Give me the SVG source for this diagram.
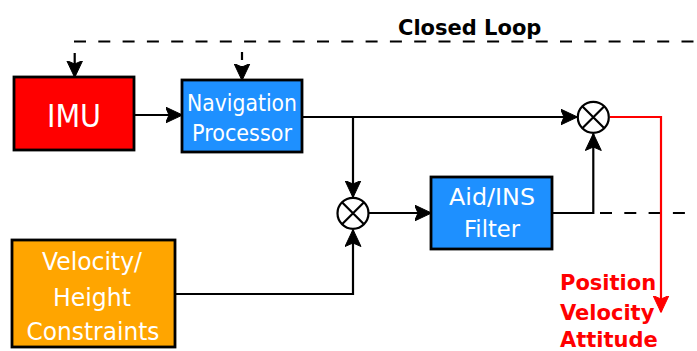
<svg xmlns="http://www.w3.org/2000/svg" width="697" height="351" viewBox="0 0 697 351">
  <style>
    .box { stroke: #000; stroke-width: 2.8; }
    .lbl { font-family: "DejaVu Sans", Verdana, sans-serif; fill: #fff; text-anchor: middle; }
    .wire { fill: none; stroke: #000; stroke-width: 2.2; }
    .dash { fill: none; stroke: #000; stroke-width: 2.2; stroke-dasharray: 12 12.3; }
    .out { fill: none; stroke: #f00; stroke-width: 2.2; }
    .sum { fill: #fff; stroke: #000; stroke-width: 2.2; }
    .bold { font-family: "DejaVu Sans", Verdana, sans-serif; font-weight: bold; font-size: 21px; }
  </style>
  <defs>
    <marker id="arrow" viewBox="0 0 17 17" refX="16.5" refY="8.5" markerWidth="17" markerHeight="17" markerUnits="userSpaceOnUse" orient="auto">
      <path d="M0,0.5 L17,8.5 L0,16.5 L3.5,8.5 Z" fill="#000" stroke="#000" stroke-width="1" stroke-linejoin="miter"/>
    </marker>
    <marker id="arrow-red" viewBox="0 0 17 17" refX="16.5" refY="8.5" markerWidth="17" markerHeight="17" markerUnits="userSpaceOnUse" orient="auto">
      <path d="M0,0.5 L17,8.5 L0,16.5 L3.5,8.5 Z" fill="#f00" stroke="#f00" stroke-width="1" stroke-linejoin="miter"/>
    </marker>
  </defs>

  <rect width="697" height="351" fill="#fff"/>

  <text class="bold" x="398" y="35" fill="#000">Closed Loop</text>

  <g id="connectors">
    <!-- closed-loop feedback -->
    <path class="dash" d="M74,41.5 H697"/>
    <path class="wire" d="M74.7,53 V77" marker-end="url(#arrow)"/>
    <path class="wire" d="M242,52 V80" stroke-dasharray="8 6" marker-end="url(#arrow)"/>
    <!-- forward path -->
    <path class="wire" d="M134,115 H182" marker-end="url(#arrow)"/>
    <path class="wire" d="M302,117 H577" marker-end="url(#arrow)"/>
    <path class="wire" d="M353,117 V197" marker-end="url(#arrow)"/>
    <path class="wire" d="M175,294 H353 V230" marker-end="url(#arrow)"/>
    <path class="wire" d="M369,213 H431" marker-end="url(#arrow)"/>
    <path class="wire" d="M552,213 H593.3 V134" marker-end="url(#arrow)"/>
    <path class="dash" d="M600,213 H697" stroke-dasharray="12 11.5"/>
    <!-- corrected output -->
    <path class="out" d="M610,117 H661 V312" marker-end="url(#arrow-red)"/>
  </g>

  <g id="imu">
    <rect class="box" x="14" y="77" width="120" height="73" fill="#f00"/>
    <text class="lbl" x="74" y="127" font-size="32" textLength="54" lengthAdjust="spacingAndGlyphs">IMU</text>
  </g>

  <g id="nav-processor">
    <rect class="box" x="182" y="80" width="120" height="72" fill="#1e90ff"/>
    <text class="lbl" x="242" y="111" font-size="22.5" textLength="110" lengthAdjust="spacingAndGlyphs">Navigation</text>
    <text class="lbl" x="242" y="141" font-size="22.5" textLength="100" lengthAdjust="spacingAndGlyphs">Processor</text>
  </g>

  <g id="aid-filter">
    <rect class="box" x="431" y="177" width="121" height="72" fill="#1e90ff"/>
    <text class="lbl" x="492" y="205" font-size="23.5" textLength="86" lengthAdjust="spacingAndGlyphs">Aid/INS</text>
    <text class="lbl" x="492" y="237" font-size="23.5" textLength="56" lengthAdjust="spacingAndGlyphs">Filter</text>
  </g>

  <g id="constraints">
    <rect class="box" x="12" y="240" width="163" height="107" fill="#ffa500"/>
    <text class="lbl" x="92" y="270" font-size="24.5" textLength="100" lengthAdjust="spacingAndGlyphs">Velocity/</text>
    <text class="lbl" x="92" y="306" font-size="24.5" textLength="78" lengthAdjust="spacingAndGlyphs">Height</text>
    <text class="lbl" x="93" y="340" font-size="24.5" textLength="133" lengthAdjust="spacingAndGlyphs">Constraints</text>
  </g>

  <g id="sum-aid">
    <circle class="sum" cx="353" cy="213.3" r="15.5"/>
    <path class="wire" d="M342,202.3 L364,224.3 M364,202.3 L342,224.3"/>
  </g>

  <g id="sum-out">
    <circle class="sum" cx="593.3" cy="117.3" r="15.5"/>
    <path class="wire" d="M582.3,106.3 L604.3,128.3 M604.3,106.3 L582.3,128.3"/>
  </g>

  <g id="outputs" class="bold" fill="#f00">
    <text x="560" y="290">Position</text>
    <text x="560" y="319.5">Velocity</text>
    <text x="560" y="347">Attitude</text>
  </g>
</svg>
